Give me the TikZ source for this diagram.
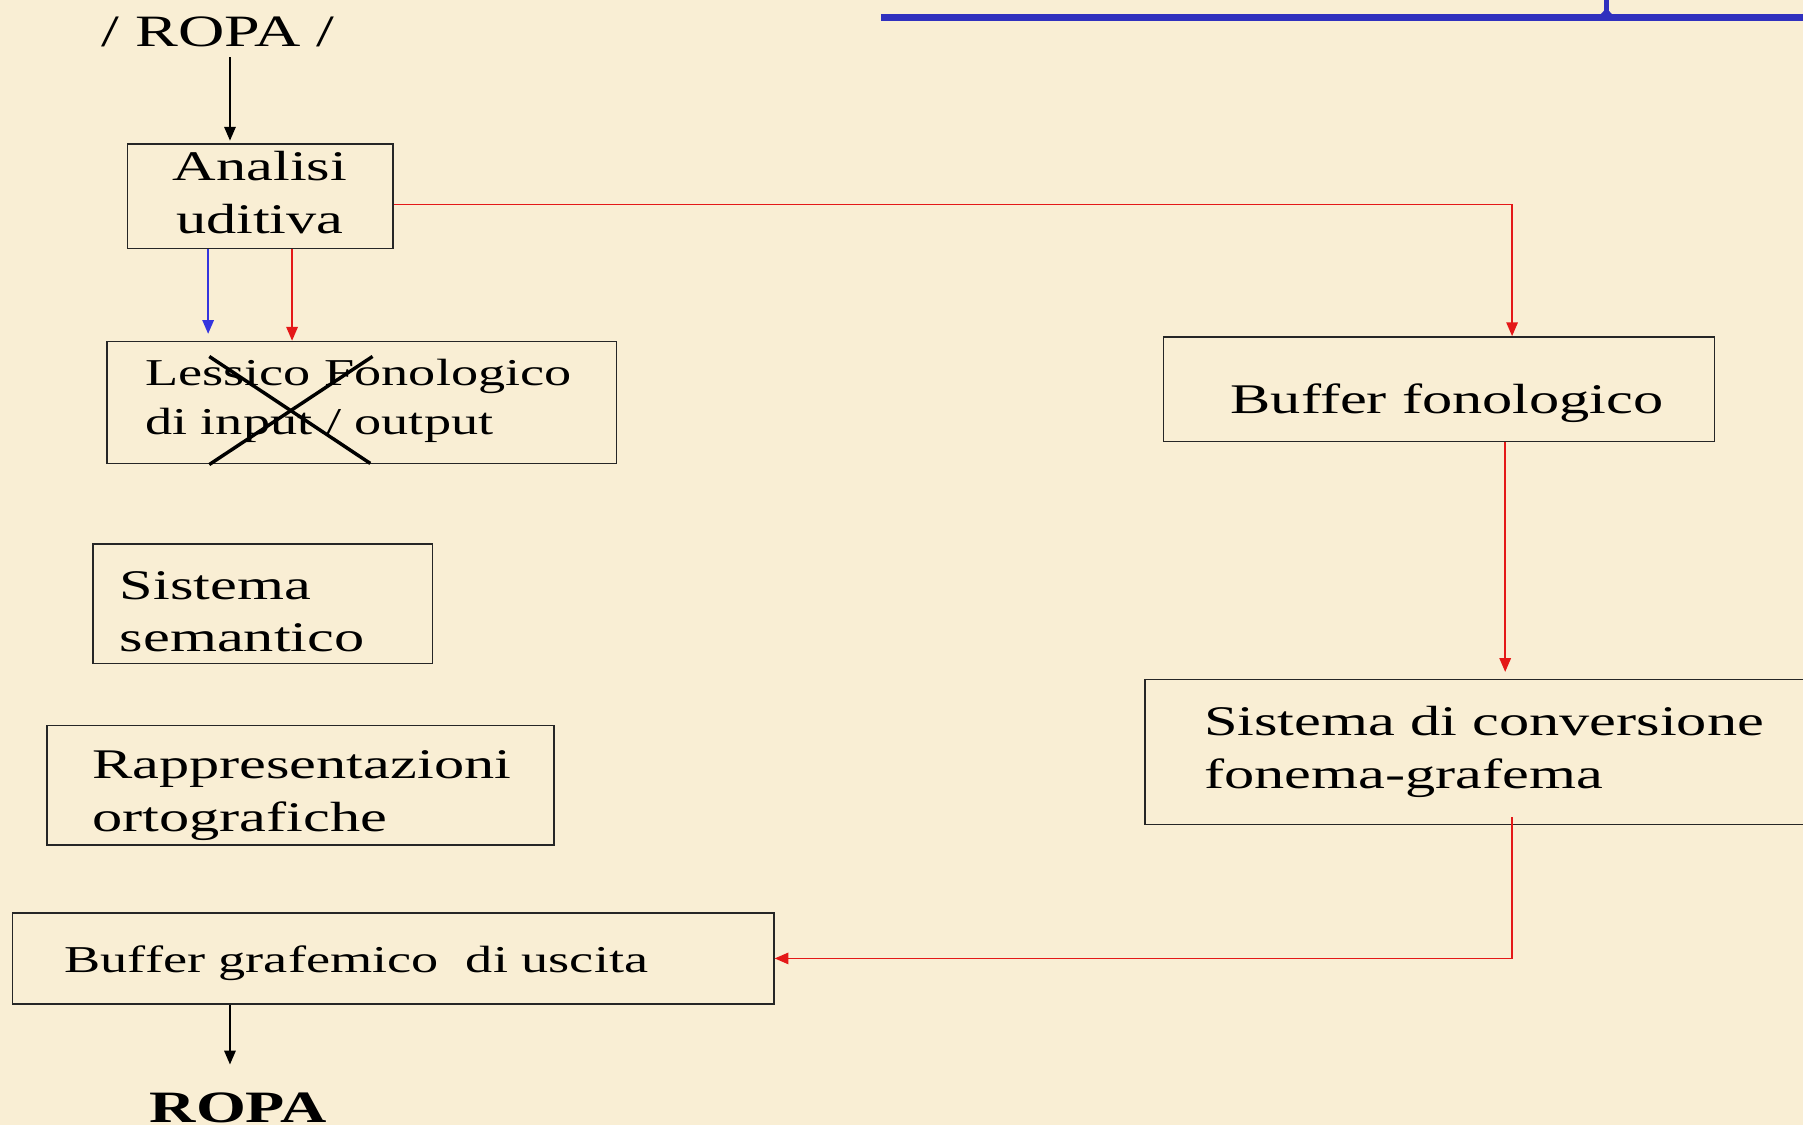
\documentclass[tikz,border=0pt]{standalone}
\usepackage{fontspec}
\setmainfont{Liberation Serif}[FakeStretch=1.43]
\usetikzlibrary{arrows.meta,fit}

\definecolor{parch}{RGB}{249,238,212}
\definecolor{linkred}{RGB}{228,24,24}
\definecolor{linkblue}{RGB}{52,52,222}
\definecolor{rulec}{RGB}{48,48,190}

\newcommand\fsA{\fontsize{36.7}{46}\selectfont}
\newcommand\fsB{\fontsize{33}{43}\selectfont}
\newcommand\fsC{\fontsize{39}{46}\selectfont}

\begin{document}
\begin{tikzpicture}[x=1pt,y=-1pt,
  box/.style={draw=black!85, line width=1.4pt, inner sep=0pt},
  lbl/.style={anchor=base west, inner sep=0pt},
  arr/.style={line width=1.3pt, -{Triangle[length=12pt,width=10pt]}},
  blk/.style={arr, draw=black},
  redl/.style={arr, draw=linkred},
  bluel/.style={arr, draw=linkblue},
]
\useasboundingbox (0,0) rectangle (1568,978);
\fill[parch] (0,0) rectangle (1568,978);
\clip (0,0) rectangle (1568,978);

% heading rule at the top
\draw[rulec, line width=6pt] (766,15) -- (1580,15);
\draw[rulec, line width=4.5pt] (1397,-5) -- (1397,15);
\fill[rulec] (1387,18) -- (1397,7) -- (1407,18) -- cycle;

% boxes
\node[box, fit={(111,125) (342,216)}] (analisi) {};
\node[box, fit={(93,297) (536,403)}] (lessico) {};
\node[box, fit={(81,473) (376,577)}] (semantico) {};
\node[box, fit={(41,631) (482,735)}] (ortho) {};
\node[box, fit={(11,794) (673,873)}] (grafem) {};
\node[box, fit={(1012,293) (1491,384)}] (buffon) {};
\node[box, fit={(996,591) (1600,717)}] (conv) {};

% texts
\node[lbl] (ropa-in) at (88,40) {\fsC / ROPA /};
\node[anchor=base, inner sep=0pt] (t-analisi) at (226,157)
  {\fsA\begin{tabular}[t]{@{}c@{}}Analisi\\uditiva\end{tabular}};
\node[lbl] (t-lessico) at (126,335)
  {\fsB\begin{tabular}[t]{@{}l@{}}Lessico Fonologico\\di input / output\end{tabular}};
\node[lbl] (t-semantico) at (104,521)
  {\fsA\begin{tabular}[t]{@{}l@{}}Sistema\\semantico\end{tabular}};
\node[lbl] (t-ortho) at (80,677)
  {\fsA\begin{tabular}[t]{@{}l@{}}Rappresentazioni\\ortografiche\end{tabular}};
\node[lbl] (t-grafem) at (56,846) {\fsB Buffer grafemico\ \ di uscita};
\node[lbl] (t-buffon) at (1070,360) {\fsA Buffer fonologico};
\node[lbl] (t-conv) at (1047,640)
  {\fsA\begin{tabular}[t]{@{}l@{}}Sistema di conversione\\fonema-grafema\end{tabular}};
\node[lbl] (ropa-out) at (130,976) {\fsC\bfseries ROPA};

% crossed-out lexicon
\draw[line width=3pt] (182,310) -- (322,403);
\draw[line width=3pt] (324,310) -- (182,404);

% connector columns
\coordinate (colA) at (200,0);
\coordinate (colB) at (181,0);
\coordinate (colC) at (254,0);
\coordinate (colD) at (1315,0);
\coordinate (colE) at (1309,0);

% connectors
\draw[blk] ([yshift=-9pt]ropa-in.south -| colA) -- ([yshift=2pt]analisi.north -| colA);
\draw[bluel] (analisi.south -| colB) -- ([yshift=6pt]lessico.north -| colB);
\draw[redl] (analisi.south -| colC) -- (lessico.north -| colC);
\draw[redl] (analisi.east |- 0,178) -| (buffon.north -| colD);
\draw[redl] (buffon.south -| colE) -- ([yshift=6pt]conv.north -| colE);
\draw[redl] ([yshift=7pt]conv.south -| colD) |- (grafem.east);
\draw[blk] (grafem.south -| colA) -- ([yshift=-52pt]grafem.south -| colA);
\end{tikzpicture}
\end{document}
